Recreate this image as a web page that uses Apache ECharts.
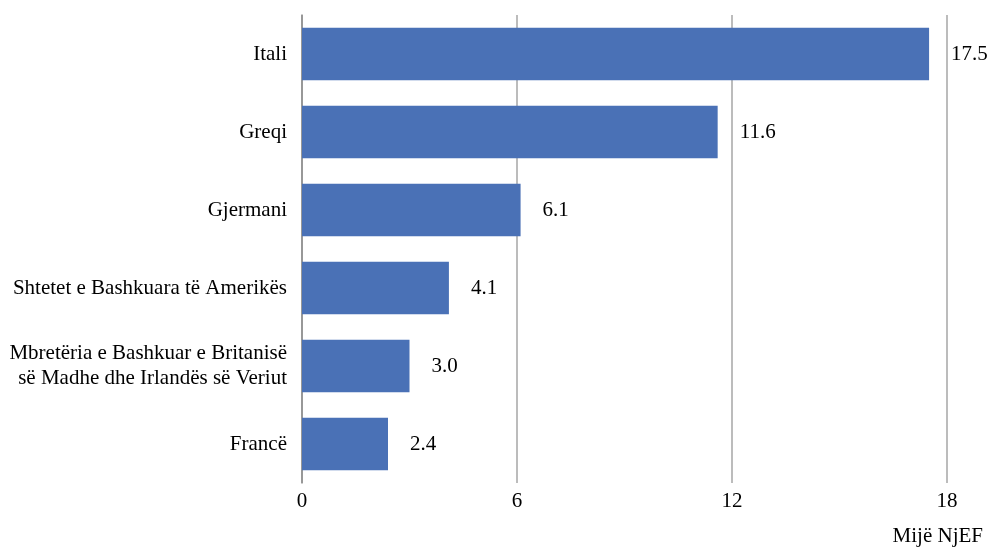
<!DOCTYPE html>
<html><head><meta charset="utf-8">
<script src="https://cdn.jsdelivr.net/npm/echarts@6/dist/echarts.min.js"></script>
<style>html,body{margin:0;padding:0;background:#fff}#c{width:990px;height:547px}</style>
</head><body><div id="c"></div>
<script>
const categories = ["Itali", "Greqi", "Gjermani", "Shtetet e Bashkuara të Amerikës", "Mbretëria e Bashkuar e Britanisë\nsë Madhe dhe Irlandës së Veriut", "Francë"];
const values = [17.5, 11.6, 6.1, 4.1, 3.0, 2.4];
const xTicks = [0, 6, 12, 18];
const unitLabel = "Mijë NjEF";

const FONT = '"Liberation Serif", "Times New Roman", serif';
const chart = echarts.init(document.getElementById('c'));
chart.setOption({
  animation: false,
  backgroundColor: '#fff',
  title: { text: unitLabel, right: 7, top: 526, padding: 0,
    textStyle: { fontFamily: FONT, fontSize: 21, fontWeight: 'normal', color: '#000' } },
  grid: { left: 302, right: 43, top: 15, bottom: 64, containLabel: false },
  xAxis: {
    type: 'value', min: xTicks[0], max: xTicks[xTicks.length - 1], interval: xTicks[1] - xTicks[0],
    axisLine: { show: false }, axisTick: { show: false },
    splitLine: { show: true, lineStyle: { color: '#a6a6a6', width: 1.5 } },
    axisLabel: { fontFamily: FONT, fontSize: 21, color: '#000', margin: 8,
      formatter: v => xTicks.includes(v) ? String(v) : '' }
  },
  yAxis: {
    type: 'category', inverse: true, data: categories,
    axisLine: { show: true, lineStyle: { color: '#8c8c8c', width: 1.5 } },
    axisTick: { show: false },
    axisLabel: { fontFamily: FONT, fontSize: 21, color: '#000', margin: 15, lineHeight: 25, align: 'right' }
  },
  series: [{
    type: 'bar', data: values, barCategoryGap: '33%',
    itemStyle: { color: '#4a71b6' },
    label: { show: true, position: 'right', distance: 22, fontFamily: FONT, fontSize: 21, color: '#000',
      formatter: p => p.value.toFixed(1) }
  }]
});
</script></body></html>
